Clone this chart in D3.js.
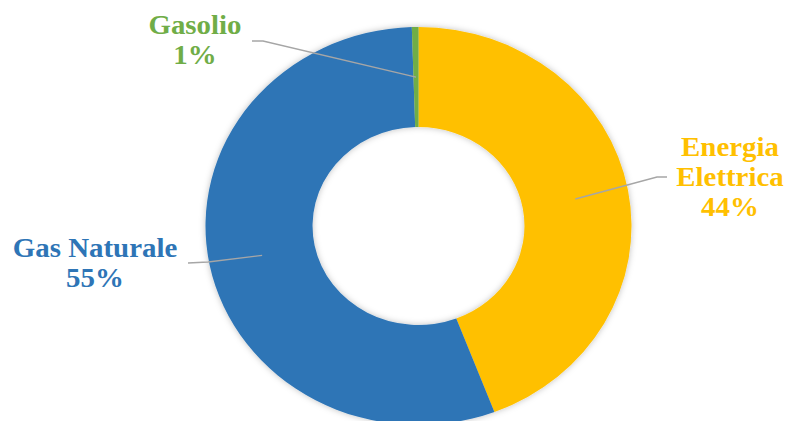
<!DOCTYPE html>
<html>
<head>
<meta charset="utf-8">
<script src="https://cdn.jsdelivr.net/npm/d3@7"></script>
<style>
  body { margin: 0; background: #fff; }
  text { font-family: "Liberation Serif", "Times New Roman", serif; font-weight: bold; }
</style>
</head>
<body>
<div id="chart"></div>
<script>
// Data
var categories = ['Energia Elettrica', 'Gas Naturale', 'Gasolio'];
var values = [44.2, 55.3, 0.5];
var percentLabels = ['44%', '55%', '1%'];
var colors = ['#FFC000', '#2E75B6', '#70AD47'];

// label layout: text lines, text anchor point, leader elbow and end
var labelLines = [['Energia', 'Elettrica'], ['Gas Naturale'], ['Gasolio']];
var labelPos = [
  { x: 730, y: 156, elbow: [657, 177], end: [667, 177] },
  { x: 95, y: 257, elbow: [208, 262], end: [188, 263] },
  { x: 195, y: 34, elbow: [263, 41], end: [252, 41] }
];

var width = 787, height = 421;
var cx = 418.5, cy = 226;
var outerR = 199, innerR = 99;
var sx = 213 / 199; // reference is a little wider than tall

var svg = d3.select('#chart')
  .append('svg')
  .attr('width', width)
  .attr('height', height);

var defs = svg.append('defs');
var shadow = defs.append('filter')
  .attr('id', 'shadow')
  .attr('x', '-10%').attr('y', '-10%')
  .attr('width', '120%').attr('height', '120%');
shadow.append('feDropShadow')
  .attr('dx', 0).attr('dy', 0)
  .attr('stdDeviation', 3)
  .attr('flood-color', '#000')
  .attr('flood-opacity', 0.25);

var pie = d3.pie().sort(null).value(function(d) { return d; });
var arc = d3.arc().innerRadius(innerR).outerRadius(outerR);
var arcs = pie(values);

var donut = svg.append('g')
  .attr('transform', 'translate(' + cx + ',' + cy + ') scale(' + sx + ',1)')
  .attr('filter', 'url(#shadow)');

donut.selectAll('path')
  .data(arcs)
  .enter()
  .append('path')
  .attr('d', arc)
  .attr('fill', function(d, i) { return colors[i]; });

// Leader lines
svg.selectAll('.leader')
  .data(arcs)
  .enter()
  .append('polyline')
  .attr('class', 'leader')
  .attr('fill', 'none')
  .attr('stroke', '#A6A6A6')
  .attr('stroke-width', 1.3)
  .attr('points', function(d, i) {
    var c = arc.centroid(d);
    var p = labelPos[i];
    return [[cx + c[0] * sx, cy + c[1]], p.elbow, p.end].join(' ');
  });

// Labels
var labels = svg.selectAll('.label')
  .data(arcs)
  .enter()
  .append('text')
  .attr('class', 'label')
  .attr('text-anchor', 'middle')
  .attr('font-size', 27)
  .attr('fill', function(d, i) { return colors[i]; })
  .attr('transform', function(d, i) {
    return 'translate(' + labelPos[i].x + ',' + labelPos[i].y + ') scale(' + sx + ',1)';
  });

labels.each(function(d, i) {
  var t = d3.select(this);
  var lines = labelLines[i].concat([percentLabels[i]]);
  lines.forEach(function(line, j) {
    t.append('tspan')
      .attr('x', 0)
      .attr('y', j * 30)
      .text(line);
  });
});
</script>
</body>
</html>
